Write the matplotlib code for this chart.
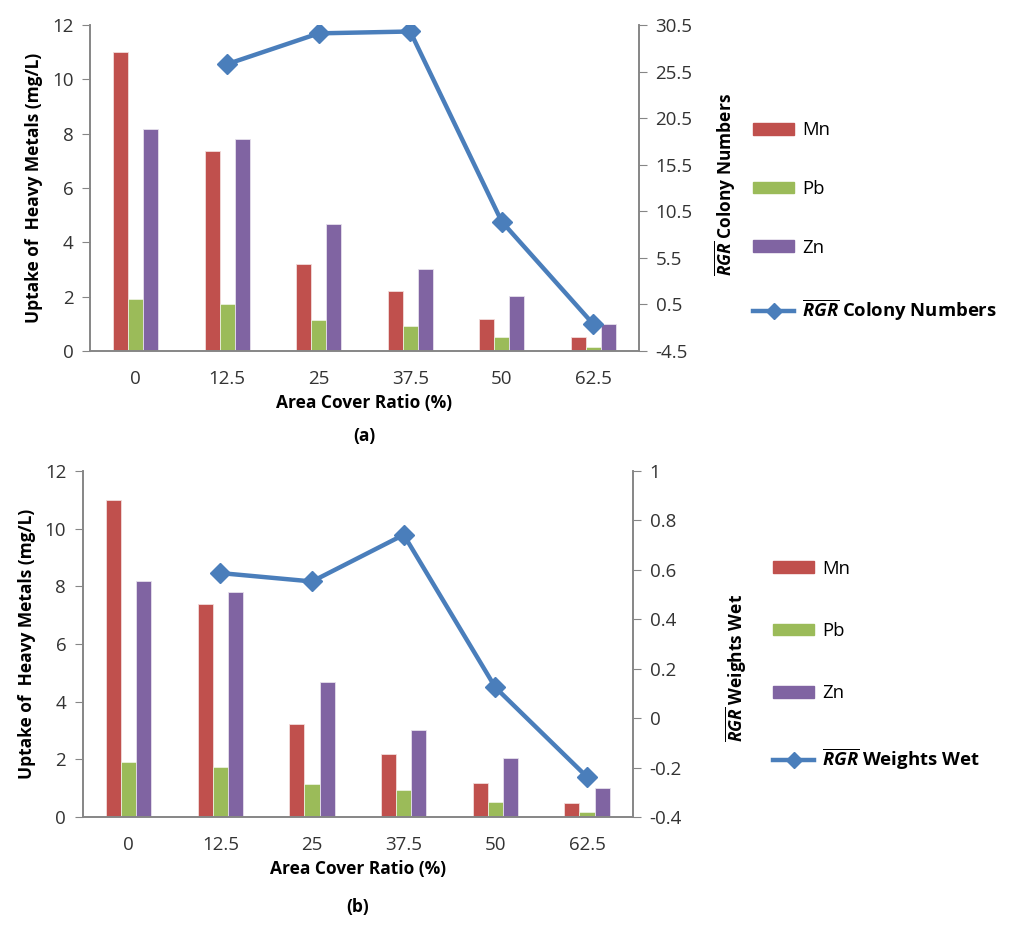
import matplotlib
matplotlib.use("Agg")
import matplotlib.pyplot as plt
import numpy as np
from matplotlib.lines import Line2D
from matplotlib.patches import Patch

# data
ratios = ['0', '12.5', '25', '37.5', '50', '62.5']
mn = [11.0, 7.38, 3.22, 2.2, 1.18, 0.5]
pb = [1.92, 1.73, 1.14, 0.92, 0.52, 0.16]
zn = [8.17, 7.8, 4.67, 3.02, 2.03, 1.0]

# RGR values (first ratio has no value)
rgr_colony = [np.nan, 26.3, 29.6, 29.8, 9.4, -1.6]
rgr_wet = [np.nan, 0.587, 0.553, 0.742, 0.124, -0.238]

colony_ticks = [-4.5, 0.5, 5.5, 10.5, 15.5, 20.5, 25.5, 30.5]
wet_ticks = [-0.4, -0.2, 0, 0.2, 0.4, 0.6, 0.8, 1]

c_mn, c_pb, c_zn, c_line = '#C0504D', '#9BBB59', '#8064A2', '#4A7EBB'
axis_grey = '#868686'

fam = 'Open Sans'
plt.rcParams['font.family'] = [fam, 'DejaVu Sans']
plt.rcParams['mathtext.fontset'] = 'custom'
plt.rcParams['mathtext.rm'] = fam
plt.rcParams['mathtext.it'] = fam + ':italic'
plt.rcParams['mathtext.bf'] = fam + ':bold'
plt.rcParams['mathtext.bfit'] = fam + ':bold:italic'

fig = plt.figure(figsize=(10.11, 9.25), dpi=100)

rgr = r'$\overline{\mathbfit{RGR}}$'
caption_txt = {False: '(a)', True: '(b)'}


def panel(rect, rgr_vals, ticks, rlabel, rlabel_x, rlabel_y, leg_pos, spacing):
    ax = fig.add_axes(rect)
    x = np.arange(len(ratios))
    w = 0.165
    ax.bar(x - w, mn, w, color=c_mn, edgecolor='#F2DCDB', linewidth=0.6)
    ax.bar(x, pb, w, color=c_pb, edgecolor='#EBF1DE', linewidth=0.6)
    ax.bar(x + w, zn, w, color=c_zn, edgecolor='#E6E0EC', linewidth=0.6)
    ax.set_xlim(-0.5, 5.5)
    ax.set_ylim(0, 12)
    ax.set_yticks(range(0, 13, 2))
    ax.set_xticks(x)
    ax.set_xticklabels(ratios)
    ax.tick_params(axis='x', length=0, pad=14, labelsize=13.5, colors='#333333')
    ax.tick_params(axis='y', length=6, color=axis_grey, labelsize=13.5,
                   labelcolor='#333333', pad=6)
    for s in ['left', 'bottom', 'right']:
        ax.spines[s].set_color(axis_grey)
        ax.spines[s].set_linewidth(1.2)
    ax.spines['top'].set_visible(False)
    ax.set_xlabel('Area Cover Ratio (%)', fontsize=12.5, fontweight='bold', labelpad=4)
    ax.set_ylabel('Uptake of  Heavy Metals (mg/L)', fontsize=12.5, fontweight='bold',
                  labelpad=6)

    ax2 = ax.twinx()
    ax2.plot(x, rgr_vals, color=c_line, linewidth=3.2, marker='D', markersize=10,
             markeredgecolor=c_line)
    ax2.set_ylim(ticks[0], ticks[-1])
    ax2.set_yticks(ticks)
    ax2.set_yticklabels([f'{t:g}' for t in ticks])
    ax2.tick_params(axis='y', length=6, color=axis_grey, labelsize=13.5,
                    labelcolor='#333333', pad=6)
    for s in ['left', 'bottom', 'right']:
        ax2.spines[s].set_color(axis_grey)
        ax2.spines[s].set_linewidth(1.2)
    ax2.spines['top'].set_visible(False)
    ax2.set_ylabel(rgr + ' ' + rlabel, fontsize=12.5, fontweight='bold')
    ax2.yaxis.set_label_coords(rlabel_x, rlabel_y)

    ax.text(0.5, -0.26, caption_txt[rect[1] < 0.5], transform=ax.transAxes,
            ha='center', va='center', fontsize=12.5, fontweight='bold')

    handles = [Patch(color=c_mn), Patch(color=c_pb), Patch(color=c_zn),
               Line2D([], [], color=c_line, linewidth=3.2, marker='D', markersize=8)]
    labels = ['Mn', 'Pb', 'Zn', rgr + ' ' + rlabel]
    leg = fig.legend(handles, labels, loc='center left', bbox_to_anchor=leg_pos,
                     frameon=False, fontsize=13.3, labelspacing=spacing,
                     handlelength=2.2, handleheight=0.6, handletextpad=0.45,
                     borderpad=0, borderaxespad=0)
    leg.get_texts()[3].set_fontweight('bold')
    return ax, ax2


panel([0.089, 0.6205, 0.543, 0.3525], rgr_colony, colony_ticks,
      'Colony Numbers', 1.135, 0.51, (0.745, 0.76), 2.2)
panel([0.082, 0.1168, 0.544, 0.374], rgr_wet, wet_ticks,
      'Weights Wet', 1.165, 0.43, (0.765, 0.28), 2.4)

fig.savefig('out.png', dpi=100)
